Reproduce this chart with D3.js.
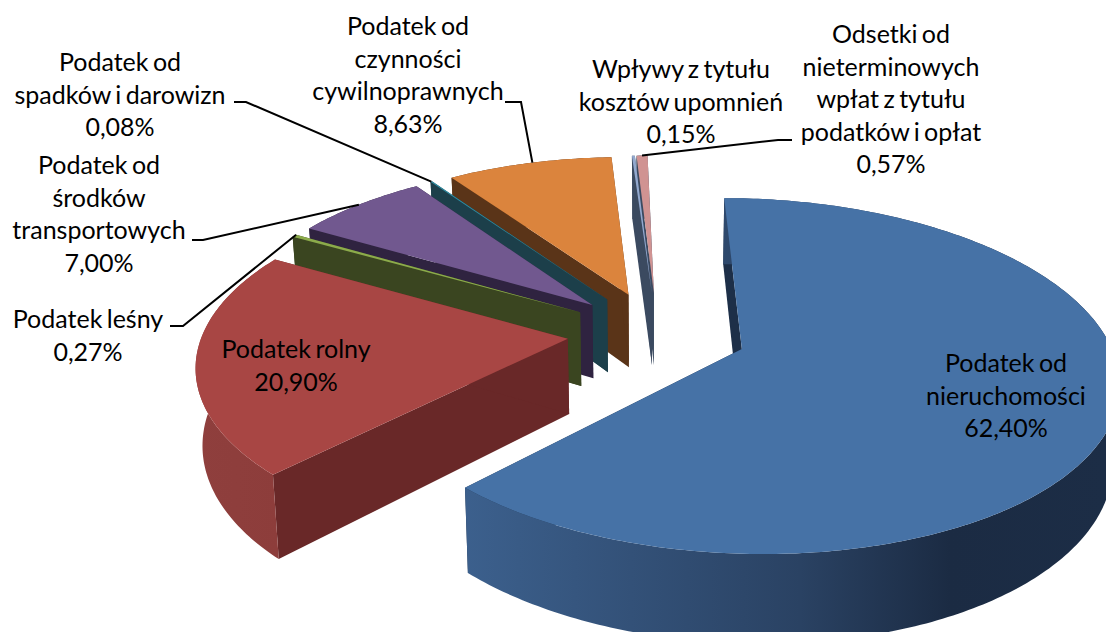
<!DOCTYPE html>
<html>
<head>
<meta charset="utf-8">
<script src="https://d3js.org/d3.v7.min.js"></script>
<style>
    html, body { margin: 0; padding: 0; background: #fff; }
    svg { display: block; }
    text { font-family: Lato, "Open Sans", sans-serif; font-size: 25px; word-spacing: -2px; fill: #000; text-anchor: middle; }
</style>
</head>
<body>
<div id="chart"></div>
<script>
// Chart data, clockwise from the top
const categories = [
    ['Podatek od', 'nieruchomości'],
    ['Podatek rolny'],
    ['Podatek leśny'],
    ['Podatek od', 'środków', 'transportowych'],
    ['Podatek od', 'spadków i darowizn'],
    ['Podatek od', 'czynności', 'cywilnoprawnych'],
    ['Wpływy z tytułu', 'kosztów upomnień'],
    ['Odsetki od', 'nieterminowych', 'wpłat z tytułu', 'podatków i opłat']
];
const values = [62.40, 20.90, 0.27, 7.00, 0.08, 8.63, 0.15, 0.57];

const topColors = ['#4672a6', '#a84644', '#8cab4b', '#71588f', '#2f8ea5', '#db843d', '#93a9cf', '#d09392'];
const wallColors = ['#1d2f48', '#692828', '#3a4520', '#2f2340', '#1c3f4a', '#5a3418', '#3b4a60', '#3b4a60'];
const rimStops = [
    [[463, '#3c608d'], [800, '#2a4263'], [950, '#1b2b43'], [1106, '#1c2d46']],
    [[190, '#8f3f3d'], [280, '#8d3d3b']],
    [[0, '#3a4520'], [1, '#3a4520']],
    [[0, '#2f2340'], [1, '#2f2340']],
    [[0, '#1c3f4a'], [1, '#1c3f4a']],
    [[0, '#5a3418'], [1, '#5a3418']],
    [[0, '#3b4a60'], [1, '#3b4a60']],
    [[0, '#3b4a60'], [1, '#3b4a60']]
];

// Label placement: centre x of the label and y of the first line for each slice
const labelPos = [
    { x: 1006, y: 372 },
    { x: 296, y: 358 },
    { x: 88, y: 328 },
    { x: 99, y: 174 },
    { x: 120, y: 71 },
    { x: 408, y: 35 },
    { x: 681, y: 78 },
    { x: 891, y: 43 }
];
const lineHeight = 32.5;

// Leader lines: elbow points from the slice edge out to the label
const leaders = [
    { slice: 2, at: 1, points: [[183, 326], [170, 326]] },
    { slice: 3, at: 0.5, points: [[203, 240], [192, 240]] },
    { slice: 4, at: 0.5, points: [[246, 102], [234, 102]] },
    { slice: 5, at: 0.52, points: [[521, 102], [505, 102]] },
    { slice: 7, at: 0.5, points: [[778, 140], [792, 140]] }
];

const width = 1106;
const height = 632;

// Pie plane to screen, with a little perspective towards the back
const explode = 0.246;
const perspective = 0.15;
const shear = -6.5;
const wallDepth = 75;
const bottomShrink = 0.985;
const vanishX = 657;

const xScale = d3.scaleLinear().domain([-1, 1]).range([vanishX - 365, vanishX + 365]);
const yScale = d3.scaleLinear().domain([-1, 1]).range([333 + 169, 333 - 169]);

function project(u, v, bottom) {
    const w = 1 + perspective * v;
    let x = xScale(u / w) + shear * v;
    let y = yScale(v / w);
    if (bottom) {
        x = vanishX + (x - vanishX) * bottomShrink;
        y += wallDepth / w;
    }
    return [x, y];
}

const svg = d3.select('#chart').append('svg')
    .attr('width', width)
    .attr('height', height);

const defs = svg.append('defs');
const linePath = d3.line();

const pie = d3.pie().sort(null).startAngle(0).endAngle(2 * Math.PI);
const arcs = pie(values);

// Points on the rim of a slice in plane coordinates
function planePoint(arc, angle, radius) {
    const mid = (arc.startAngle + arc.endAngle) / 2;
    return [
        explode * Math.sin(mid) + radius * Math.sin(angle),
        explode * Math.cos(mid) + radius * Math.cos(angle)
    ];
}

function rimAngles(arc) {
    const steps = Math.max(2, Math.ceil((arc.endAngle - arc.startAngle) / 0.015));
    return d3.range(steps + 1).map(i => arc.startAngle + (arc.endAngle - arc.startAngle) * i / steps);
}

function quad(p1, p2) {
    return [
        project(p1[0], p1[1], false), project(p2[0], p2[1], false),
        project(p2[0], p2[1], true), project(p1[0], p1[1], true)
    ];
}

// Back slices first, so that the ones in front cover them
const drawOrder = [7, 6, 5, 4, 3, 2, 1, 0];

drawOrder.forEach(i => {
    const arc = arcs[i];
    const g = svg.append('g');
    const apex = planePoint(arc, 0, 0);
    const angles = rimAngles(arc);
    const rim = angles.map(a => planePoint(arc, a, 1));

    // Radial walls
    [rim[0], rim[rim.length - 1]].forEach(p => {
        g.append('path')
            .attr('d', linePath(quad(apex, p)) + 'Z')
            .attr('fill', wallColors[i]);
    });

    // Rim wall, shaded with a horizontal gradient
    const gradId = 'rim' + i;
    const stops = rimStops[i];
    const grad = defs.append('linearGradient')
        .attr('id', gradId)
        .attr('gradientUnits', stops[stops.length - 1][0] > 1 ? 'userSpaceOnUse' : 'objectBoundingBox')
        .attr('x1', stops[0][0]).attr('x2', stops[stops.length - 1][0])
        .attr('y1', 0).attr('y2', 0);
    stops.forEach(s => {
        grad.append('stop')
            .attr('offset', (s[0] - stops[0][0]) / (stops[stops.length - 1][0] - stops[0][0]))
            .attr('stop-color', s[1]);
    });
    const rimPoints = rim.map(p => project(p[0], p[1], false))
        .concat(rim.slice().reverse().map(p => project(p[0], p[1], true)));
    g.append('path')
        .attr('d', linePath(rimPoints) + 'Z')
        .attr('fill', `url(#${gradId})`);

    // Top face
    const topPoints = [project(apex[0], apex[1], false)]
        .concat(rim.map(p => project(p[0], p[1], false)));
    g.append('path')
        .attr('d', linePath(topPoints) + 'Z')
        .attr('fill', topColors[i]);
});

// Leader lines
leaders.forEach(d => {
    const arc = arcs[d.slice];
    const angle = arc.startAngle + (arc.endAngle - arc.startAngle) * d.at;
    const p = planePoint(arc, angle, 1);
    svg.append('path')
        .attr('d', linePath([project(p[0], p[1], false)].concat(d.points)))
        .attr('fill', 'none')
        .attr('stroke', '#000')
        .attr('stroke-width', 2);
});

// Labels, with the value as the last line
const percent = v => v.toFixed(2).replace('.', ',') + '%';

categories.forEach((lines, i) => {
    const pos = labelPos[i];
    lines.concat(percent(values[i])).forEach((line, j) => {
        svg.append('text')
            .attr('x', pos.x)
            .attr('y', pos.y + j * lineHeight)
            .text(line);
    });
});
</script>
</body>
</html>
